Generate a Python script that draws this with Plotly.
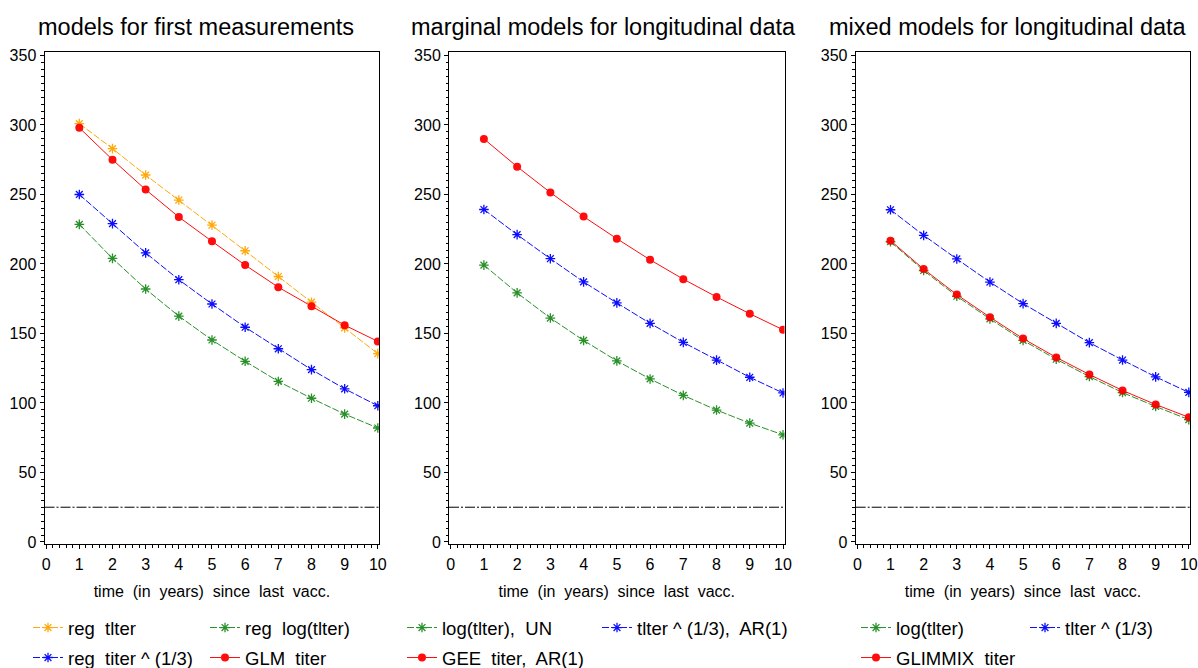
import plotly.graph_objects as go

# ---------------- data ----------------
years = [1, 2, 3, 4, 5, 6, 7, 8, 9, 10]

# panel 1: models for first measurements
p1_reg_titer = [301, 283, 264, 246, 228, 209.5, 191, 172.5, 154, 135.5]
p1_reg_log = [228.5, 204, 182, 162.5, 145.3, 130, 115.5, 103.4, 92, 82]
p1_reg_cuberoot = [250, 229, 208, 188.7, 171.2, 154.5, 139, 124, 110.2, 98]
p1_glm_titer = [298, 275, 253.5, 233.8, 216.3, 199.2, 183.3, 169.5, 156, 144.3]

# panel 2: marginal models for longitudinal data
p2_log_un = [199.2, 179.2, 161.1, 145, 130.3, 117.3, 105.5, 94.9, 85.5, 77.1]
p2_cuberoot_ar1 = [239.2, 221.1, 203.8, 187.1, 172, 157.3, 143.6, 130.8, 118.5, 107.2]
p2_gee_ar1 = [290, 270, 251.4, 234.1, 218.2, 203, 189.1, 176.3, 164.2, 152.7]

# panel 3: mixed models for longitudinal data
p3_log = [216, 195.3, 176.8, 160.5, 145, 131.5, 119, 107.5, 97.5, 88]
p3_cuberoot = [239, 220.6, 203.6, 187, 171.5, 157.3, 143.4, 130.9, 118.8, 107.6]
p3_glimmix = [216.8, 196.3, 178, 161.7, 146.3, 132.8, 120.5, 109, 98.9, 89.7]

ref_level = 25

panel_titles = ["models for first measurements",
                "marginal models for longitudinal data",
                "mixed models for longitudinal data"]
x_title = "time\u00a0 (in\u00a0 years)\u00a0 since\u00a0 last\u00a0 vacc."
y_ticks = [0, 50, 100, 150, 200, 250, 300, 350]
x_ticks = [0, 1, 2, 3, 4, 5, 6, 7, 8, 9, 10]

# ---------------- styling ----------------
W, H = 1198, 668
FONT = "Liberation Sans, Arial, sans-serif"
ORANGE = "#FFA500"
GREEN = "#1E8C1E"
BLUE = "#0000FF"
RED = "#FF0000"


def px_x(p):
    return p / W


def px_y(p):
    return 1 - p / H


fig = go.Figure()

star_dash = "7px,2px"


def add_series(xa, ya, y, name, color, legend, kind):
    if kind == "star":
        fig.add_trace(go.Scatter(
            x=years, y=y, name=name, xaxis=xa, yaxis=ya, legend=legend,
            mode="lines+markers",
            line=dict(color=color, width=1, dash=star_dash),
            marker=dict(symbol="asterisk-open", size=8, color=color,
                        line=dict(color=color, width=1.3)),
            opacity=0.95,
        ))
    else:
        fig.add_trace(go.Scatter(
            x=years, y=y, name=name, xaxis=xa, yaxis=ya, legend=legend,
            mode="lines+markers",
            line=dict(color=color, width=1),
            marker=dict(symbol="circle", size=8, color=color),
            opacity=0.95,
        ))


S2 = "\u00a0 "
# panel 1
add_series("x", "y", p1_reg_titer, "reg" + S2 + "tlter", ORANGE, "legend", "star")
add_series("x", "y", p1_reg_log, "reg" + S2 + "log(tlter)", GREEN, "legend", "star")
add_series("x", "y", p1_reg_cuberoot, "reg" + S2 + "titer ^ (1/3)", BLUE, "legend2", "star")
add_series("x", "y", p1_glm_titer, "GLM" + S2 + "titer", RED, "legend2", "circle")
# panel 2
add_series("x2", "y2", p2_log_un, "log(tlter)," + S2 + "UN", GREEN, "legend3", "star")
add_series("x2", "y2", p2_cuberoot_ar1, "tlter ^ (1/3)," + S2 + "AR(1)", BLUE, "legend3", "star")
add_series("x2", "y2", p2_gee_ar1, "GEE" + S2 + "titer," + S2 + "AR(1)", RED, "legend4", "circle")
# panel 3
add_series("x3", "y3", p3_log, "log(tlter)", GREEN, "legend5", "star")
add_series("x3", "y3", p3_cuberoot, "tlter ^ (1/3)", BLUE, "legend5", "star")
add_series("x3", "y3", p3_glimmix, "GLIMMIX" + S2 + "titer", RED, "legend6", "circle")

# reference level lines
for xa, ya in [("x", "y"), ("x2", "y2"), ("x3", "y3")]:
    fig.add_shape(type="line", xref=xa + " domain", yref=ya,
                  x0=0, x1=1, y0=ref_level, y1=ref_level,
                  line=dict(color="black", width=1, dash="10px,2px,2px,2px"))

# axes
x_domains = [(44.5, 379.3), (449.0, 784.5), (855.7, 1190.3)]
y_domain = (px_y(544), px_y(52))
x_range = [-0.05, 10.045]
y_range = [-1.45, 352.5]

axis_common = dict(
    showline=True, linecolor="black", linewidth=1, mirror=True,
    ticks="outside", ticklen=4, tickwidth=1, tickcolor="black",
    showgrid=False, zeroline=False,
    tickfont=dict(family=FONT, size=16, color="black"),
    fixedrange=True,
)

for i, (d0, d1) in enumerate(x_domains):
    suffix = "" if i == 0 else str(i + 1)
    fig.layout["xaxis" + suffix] = dict(
        axis_common,
        domain=[px_x(d0), px_x(d1)], range=x_range, anchor="y" + suffix,
        tickvals=x_ticks, ticktext=[str(v) for v in x_ticks],
        ticklabelstandoff=2,
        minor=dict(dtick=0.2, tick0=0, ticks="outside", ticklen=2.5,
                   tickcolor="black", tickwidth=1),
        title=dict(text=x_title, font=dict(family=FONT, size=16, color="black"),
                   standoff=13),
    )
    fig.layout["yaxis" + suffix] = dict(
        axis_common,
        domain=list(y_domain), range=y_range, anchor="x" + suffix,
        tickvals=y_ticks, ticktext=[str(v) for v in y_ticks],
        minor=dict(dtick=5, tick0=0, ticks="outside", ticklen=2.5,
                   tickcolor="black", tickwidth=1),
    )

# panel titles
title_centers = [196, 603, 1008]
for txt, cx in zip(panel_titles, title_centers):
    fig.add_annotation(text=txt, x=px_x(cx), y=px_y(27), xref="paper", yref="paper",
                       showarrow=False, xanchor="center", yanchor="middle",
                       font=dict(family=FONT, size=23.5, color="black"))

# legends (one per row per panel)
legend_font = dict(family=FONT, size=18.5, color="black")
legend_specs = [
    ("legend", 28, 628, 132),
    ("legend2", 28, 658, 132),
    ("legend3", 402, 628, 150),
    ("legend4", 402, 658, 150),
    ("legend5", 856, 628, 124),
    ("legend6", 856, 658, 124),
]
for key, lx, ly, ew in legend_specs:
    fig.layout[key] = dict(
        x=px_x(lx), y=px_y(ly), xanchor="left", yanchor="middle",
        xref="paper", yref="paper",
        orientation="h", entrywidth=ew, entrywidthmode="pixels",
        font=legend_font, bgcolor="rgba(0,0,0,0)", borderwidth=0,
        itemwidth=30, tracegroupgap=0,
    )

fig.update_layout(
    width=W, height=H,
    margin=dict(l=0, r=0, t=0, b=0, autoexpand=False),
    paper_bgcolor="white", plot_bgcolor="white",
    showlegend=True,
    font=dict(family=FONT, color="black"),
)

fig.write_html("out.html", config={"displayModeBar": False})
